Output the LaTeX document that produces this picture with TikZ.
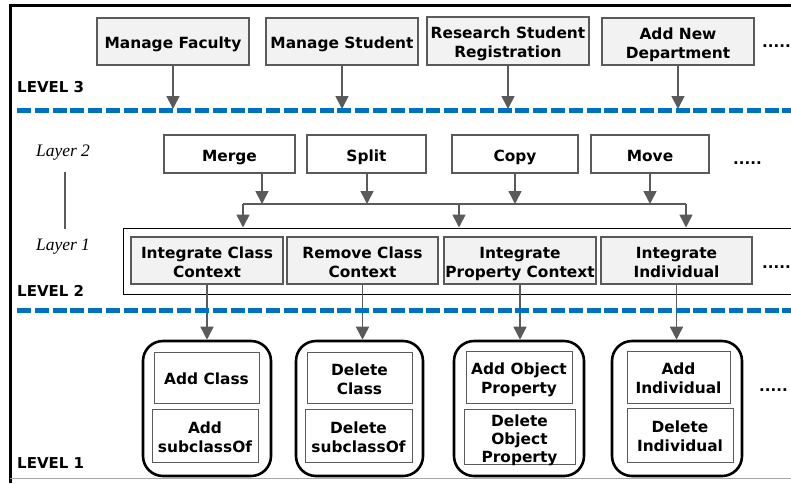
\documentclass[tikz,border=0pt]{standalone}
\usepackage{fontspec}
\newfontfamily\vfont{DejaVu Sans}
\newfontfamily\lfont{Liberation Serif}
\usetikzlibrary{arrows.meta}
\definecolor{edgegray}{HTML}{5A5A5A}
\definecolor{fillgray}{HTML}{F2F2F2}
\definecolor{dashblue}{HTML}{0070C0}
% centred lines of box text, set a little low in the box
\newcommand\boxtext[2][3.2pt]{\raisebox{-#1}[\height][\depth]{\begin{tabular}{@{}c@{}}#2\end{tabular}}}
\tikzset{
  lbl/.style={font={\vfont\bfseries\fontsize{15.4}{19}\selectfont}, inner sep=0pt},
  graybox/.style={lbl, draw=edgegray, line width=1.4pt, fill=fillgray},
  whitebox/.style={lbl, draw=edgegray, line width=1.4pt, fill=white},
  opbox/.style={lbl, draw=edgegray, line width=1pt, fill=white},
  group/.style={draw=black, line width=2.6pt, rounded corners=20pt, inner sep=0pt},
  conn/.style={draw=edgegray, line width=1.6pt},
  arr/.style={conn, -{Triangle[width=13pt,length=13pt]}},
  levelsep/.style={draw=dashblue, line width=5pt, dash pattern=on 14pt off 3.8pt},
  leveltxt/.style={font={\vfont\bfseries\fontsize{15}{19}\selectfont}, anchor=west, inner sep=0pt},
  layertxt/.style={font={\lfont\itshape\fontsize{17.5}{20}\selectfont}, inner sep=0pt},
  more/.style={font={\vfont\bfseries\fontsize{15}{19}\selectfont}, anchor=base west, inner sep=0pt},
}
\begin{document}
\begin{tikzpicture}[x=1pt,y=-1pt]
\useasboundingbox (0,0) rectangle (791,483);
% outer frame
\draw[black, line width=3pt] (10,483) -- (10,5.5) -- (791,5.5);
\draw[gray!70, line width=1pt] (10,478.5) -- (791,478.5);

% ---------- level 3 ----------
\node[graybox, minimum width=152pt, minimum height=47pt] (mf) at (173,41.5) {\boxtext{Manage Faculty}};
\node[graybox, minimum width=152pt, minimum height=47pt] (ms) at (342,41.5) {\boxtext{Manage Student}};
\node[graybox, minimum width=162pt, minimum height=48pt] (rs) at (508,41) {\boxtext{Research Student\\Registration}};
\node[graybox, minimum width=152pt, minimum height=47pt] (nd) at (678,41.5) {\boxtext{Add New\\Department}};
\node[more] (dots3) at (762,47) {.....};
\node[leveltxt] (lv3) at (17,87) {LEVEL 3};

\coordinate (s3a) at (173,109);
\coordinate (s3b) at (342,109);
\coordinate (s3c) at (508,109);
\coordinate (s3d) at (678,109);
\draw[arr] (mf.south) -- (s3a);
\draw[arr] (ms.south) -- (s3b);
\draw[arr] (rs.south) -- (s3c);
\draw[arr] (nd.south) -- (s3d);
\coordinate (sepL3) at (17,110);
\coordinate (sepR3) at (791,110);
\draw[levelsep] (sepL3) -- (sepR3);

% ---------- level 2 ----------
\node[layertxt] (ly2) at (63,153) {Layer 2};
\node[layertxt] (ly1) at (63,247) {Layer 1};
\coordinate (lyt) at (65,172);
\coordinate (lyb) at (65,229);
\draw[edgegray, line width=1.3pt] (lyt) -- (lyb);

\node[whitebox, minimum width=131pt, minimum height=38pt] (merge) at (229.5,154) {\boxtext{Merge}};
\node[whitebox, minimum width=119pt, minimum height=38pt] (split) at (366.5,154) {\boxtext{Split}};
\node[whitebox, minimum width=126pt, minimum height=38pt] (copy) at (515,154) {\boxtext{Copy}};
\node[whitebox, minimum width=118pt, minimum height=38pt] (move) at (650,154) {\boxtext{Move}};
\node[more] (dots2) at (733,164) {.....};

% layer 1 frame
\node[draw=black, line width=1pt, minimum width=680pt, minimum height=66pt, inner sep=0pt] (l1) at (463,261) {};
\node[graybox, minimum width=152pt, minimum height=47pt] (icc) at (207,260.5) {\boxtext{Integrate Class\\Context}};
\node[graybox, minimum width=151pt, minimum height=47pt] (rcc) at (362.5,260.5) {\boxtext{Remove Class\\Context}};
\node[graybox, minimum width=152pt, minimum height=47pt] (ipc) at (520,260.5) {\boxtext{Integrate\\Property Context}};
\node[graybox, minimum width=151pt, minimum height=47pt] (iin) at (676.5,260.5) {\boxtext{Integrate\\Individual}};
\node[more] (dots1) at (762,268) {.....};
\node[leveltxt] (lv2) at (17,291) {LEVEL 2};

% bus between the layers
\coordinate (b1) at (262,204);
\coordinate (b2) at (367,204);
\coordinate (b3) at (515,204);
\coordinate (b4) at (650,204);
\coordinate (busL) at (243,204);
\coordinate (busM) at (459,204);
\coordinate (busR) at (686,204);
\draw[arr] (merge.south -| b1) -- (b1);
\draw[arr] (split.south -| b2) -- (b2);
\draw[arr] (copy.south -| b3) -- (b3);
\draw[arr] (move.south -| b4) -- (b4);
\draw[conn] (busL) -- (busR);
\draw[arr] (busL) -- (busL |- l1.north);
\draw[arr] (busM) -- (busM |- l1.north);
\draw[arr] (busR) -- (busR |- l1.north);

% ---------- level 1 ----------
\node[group, minimum width=128pt, minimum height=135pt] (g1) at (207,408.5) {};
\node[group, minimum width=127pt, minimum height=135pt] (g2) at (359.5,408.5) {};
\node[group, minimum width=130pt, minimum height=135pt] (g3) at (519,408.5) {};
\node[group, minimum width=130pt, minimum height=135pt] (g4) at (677,408.5) {};

\node[opbox, minimum width=105pt, minimum height=51pt] (ac) at (206.5,377.5) {\boxtext{Add Class}};
\node[opbox, minimum width=106pt, minimum height=53pt] (as) at (205,435.5) {\boxtext{Add\\subclassOf}};
\node[opbox, minimum width=105pt, minimum height=51pt] (dc) at (359.5,377.5) {\boxtext{Delete\\Class}};
\node[opbox, minimum width=107pt, minimum height=53pt] (ds) at (358.5,435.5) {\boxtext{Delete\\subclassOf}};
\node[opbox, minimum width=106pt, minimum height=52pt] (ao) at (519,377) {\boxtext{Add Object\\Property}};
\node[opbox, minimum width=111pt, minimum height=55pt, font={\vfont\bfseries\fontsize{15.4}{18}\selectfont}] (do) at (519.5,436.5) {\boxtext[4.2pt]{Delete\\Object\\Property}};
\node[opbox, minimum width=103pt, minimum height=52pt] (ai) at (678.5,377) {\boxtext{Add\\Individual}};
\node[opbox, minimum width=106pt, minimum height=54pt] (di) at (680,435) {\boxtext{Delete\\Individual}};
\node[more] (dots0) at (759,391) {.....};
\node[leveltxt] (lv1) at (17,463) {LEVEL 1};

\draw[arr] (icc.south) -- (icc.south |- g1.north);
\draw[arr] (rcc.south) -- (rcc.south |- g2.north);
\draw[arr] (ipc.south) -- (ipc.south |- g3.north);
\draw[arr] (iin.south) -- (iin.south |- g4.north);
\coordinate (sepL2) at (17,310.5);
\coordinate (sepR2) at (791,310.5);
\draw[levelsep] (sepL2) -- (sepR2);
\end{tikzpicture}
\end{document}
